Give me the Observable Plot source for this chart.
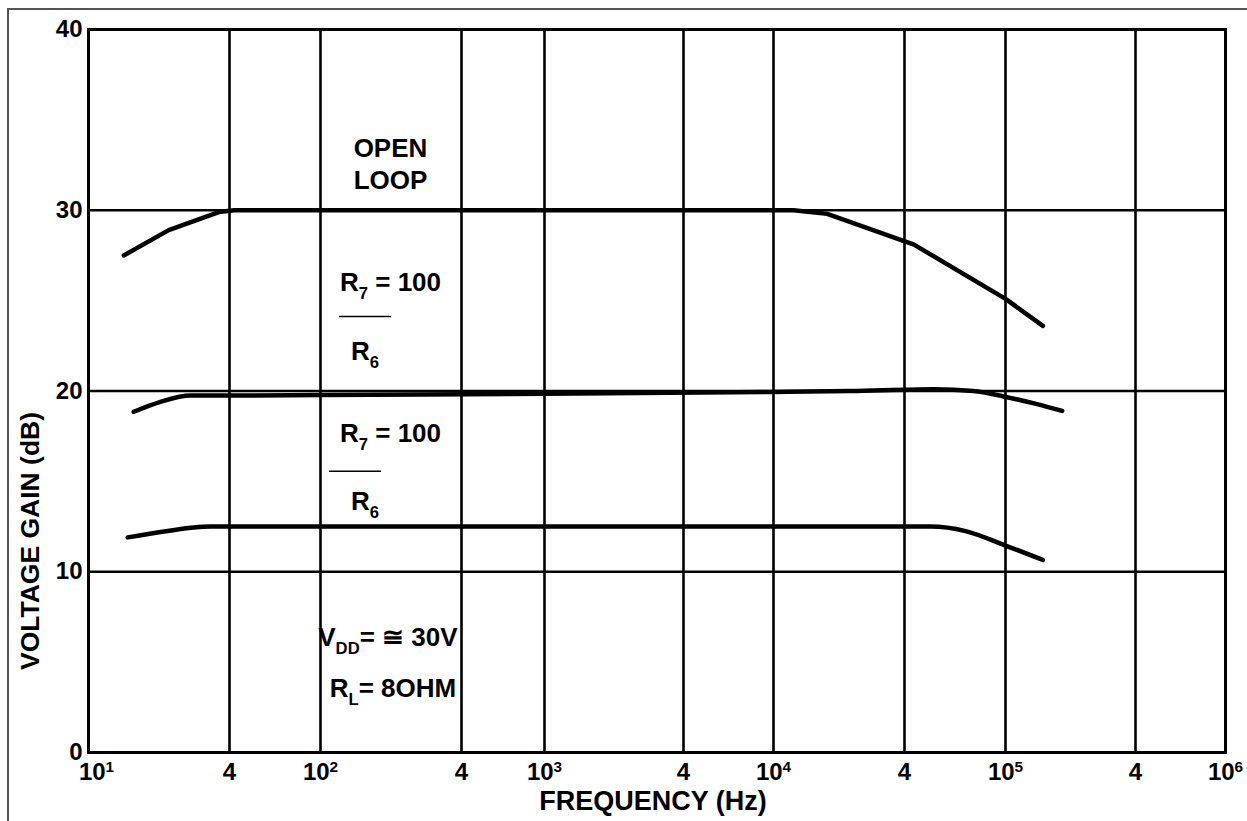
<!DOCTYPE html>
<html><head><meta charset="utf-8">
<script src="https://cdn.jsdelivr.net/npm/d3@7"></script>
<script src="https://cdn.jsdelivr.net/npm/@observablehq/plot@0.6"></script>
<style>
html,body{margin:0;padding:0;background:#fff;overflow:hidden}
#frame{position:absolute;left:7px;top:8px;width:1270px;height:840px;border-left:2px solid #555;border-top:2px solid #555;}
#chart{position:absolute;left:0;top:0}
</style></head><body>
<div id="frame"></div>
<div id="chart"></div>
<script>
// ---- data ----
const openLoopFreq = [14.15, 22, 36, 42, 1000, 12360, 17650, 43600, 100000, 149000];
const openLoopGain = [27.5, 28.9, 29.9, 30.0, 30.0, 30.0, 29.8, 28.1, 25.1, 23.6];

const midFreq = [15.6, 20.3, 27.3, 41, 100, 1000, 10000, 22570, 52000, 74800, 98200, 137000, 183000];
const midGain = [18.85, 19.4, 19.75, 19.75, 19.78, 19.85, 19.95, 20.0, 20.1, 20.0, 19.7, 19.3, 18.9];

const lowFreq = [14.7, 20.3, 33.2, 100, 1000, 10000, 50600, 69600, 100000, 149000];
const lowGain = [11.9, 12.2, 12.5, 12.5, 12.5, 12.5, 12.5, 12.25, 11.45, 10.65];

const xTicks = [10, 40, 100, 400, 1000, 4000, 10000, 40000, 100000, 400000, 1000000];
const xTickLabels = ["10^{1}", "4", "10^{2}", "4", "10^{3}", "4", "10^{4}", "4", "10^{5}", "4", "10^{6}"];
const yTicks = [0, 10, 20, 30, 40];
const yGrid = [10, 20, 30];

const noteText = ["OPEN", "LOOP", "R_{7} = 100", "R_{6}", "R_{7} = 100", "R_{6}", "V_{DD}= \u2245 30V", "R_{L}= 8OHM"];
const noteFreq = [199, 199, 199, 155, 199, 155, 194, 204];
const noteGain = [33.4, 31.65, 26.0, 22.2, 17.65, 13.9, 6.36, 3.54];

const fracGain = [24.12, 15.56];
const fracFrom = [120.5, 109.2];
const fracTo = [201, 182];

const xLabel = "FREQUENCY (Hz)";
const yLabel = "VOLTAGE GAIN (dB)";

// ---- build tables ----
const mk = (fs, gs, s) => fs.map((f, i) => ({s, f, g: gs[i]}));
const openLoop = mk(openLoopFreq, openLoopGain, "open");
const closed = [...mk(midFreq, midGain, "mid"), ...mk(lowFreq, lowGain, "low")];
const notes = noteText.map((t, i) => ({t, f: noteFreq[i], g: noteGain[i]}));
const fracs = fracGain.map((g, i) => ({g, x1: fracFrom[i], x2: fracTo[i]}));
const tickFmt = new Map(xTicks.map((t, i) => [t, xTickLabels[i]]));

const W = 1247, H = 821;

const plot = Plot.plot({
  width: W, height: H,
  marginLeft: 88, marginRight: 22, marginTop: 29, marginBottom: 69,
  style: {fontFamily: "'Liberation Sans', Arial, sans-serif", fontSize: "24px", fontWeight: "bold", color: "#000", background: "transparent", overflow: "visible"},
  x: {type: "log",
      domain: [10, 40, 100, 400, 1000, 4000, 10000, 40000, 100000, 400000, 1000000],
      range: [88, 229, 320, 461, 544, 683, 773, 904, 1005, 1135, 1225],
      axis: null},
  y: {domain: [0, 40], ticks: yTicks, tickSize: 0, tickPadding: 6, label: null},
  marks: [
    Plot.ruleX(xTicks.slice(1, -1), {stroke: "#000", strokeWidth: 2.6}),
    Plot.ruleY(yGrid, {stroke: "#000", strokeWidth: 2.6}),
    Plot.frame({stroke: "#000", strokeWidth: 3}),
    Plot.text(xTicks.slice(1), {x: d => d, text: d => tickFmt.get(d), frameAnchor: "bottom", dy: 20, lineAnchor: "middle", fontSize: 24}),
    Plot.text(xTicks.slice(0, 1), {x: d => d, text: d => tickFmt.get(d), frameAnchor: "bottom", dy: 20, dx: 8, lineAnchor: "middle", fontSize: 24}),
    Plot.line(openLoop, {x: "f", y: "g", stroke: "#000", strokeWidth: 4.5, curve: "linear", strokeLinecap: "round", strokeLinejoin: "round"}),
    Plot.line(closed, {x: "f", y: "g", z: "s", stroke: "#000", strokeWidth: 4.5, curve: "monotone-x", strokeLinecap: "round", strokeLinejoin: "round"}),
    Plot.ruleY(fracs, {y: "g", x1: "x1", x2: "x2", stroke: "#000", strokeWidth: 1.5}),
    Plot.text(notes, {x: "f", y: "g", text: "t", fontSize: 26, fontWeight: "bold", textAnchor: "middle", lineAnchor: "middle", fill: "#000"})
  ]
});

// axis titles
const svg = d3.select(plot);
svg.append("text").attr("transform", "translate(30,541) rotate(-90)")
  .attr("text-anchor", "middle").attr("dominant-baseline", "central")
  .attr("font-size", 26.5).text(yLabel);
svg.append("text").attr("x", 653).attr("y", 801)
  .attr("text-anchor", "middle").attr("dominant-baseline", "central")
  .attr("font-size", 27).text(xLabel);

document.getElementById("chart").appendChild(plot);

// sub/superscript markup -> tspans
plot.querySelectorAll("text").forEach(el => {
  const s = el.textContent;
  if (!/[_^]\{/.test(s)) return;
  const fs = parseFloat(getComputedStyle(el).fontSize) || 24;
  el.textContent = "";
  const re = /([_^])\{([^}]*)\}/g;
  let last = 0, m, shift = 0;
  const add = (txt, dy, small) => {
    const t = document.createElementNS("http://www.w3.org/2000/svg", "tspan");
    if (dy) t.setAttribute("dy", dy);
    if (small) t.setAttribute("font-size", small);
    t.textContent = txt;
    el.appendChild(t);
  };
  while ((m = re.exec(s))) {
    if (m.index > last) { add(s.slice(last, m.index), -shift); shift = 0; }
    const d = m[1] === "_" ? fs * 0.33 : -fs * 0.36;
    add(m[2], d - shift, fs * 0.64);
    shift = d;
    last = re.lastIndex;
  }
  if (last < s.length) { add(s.slice(last), -shift); }
});
</script>
</body></html>
